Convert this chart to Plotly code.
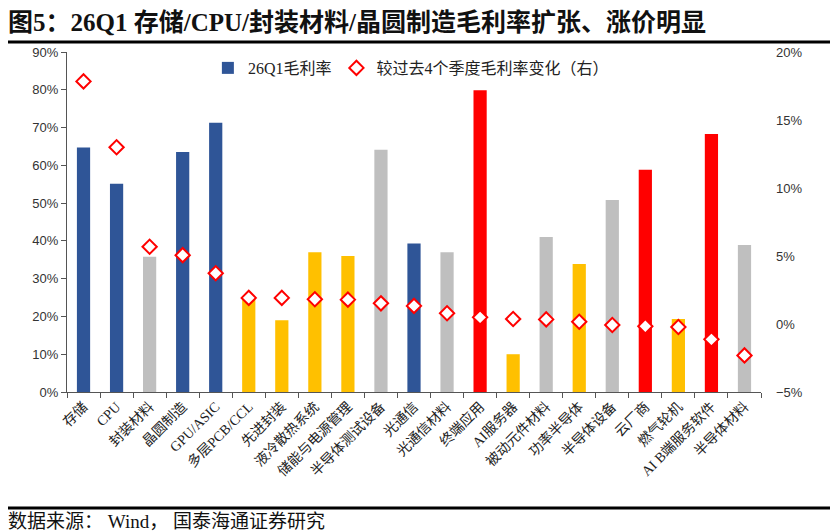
import plotly.graph_objects as go

categories = ["存储", "CPU", "封装材料", "晶圆制造", "GPU/ASIC", "多层PCB/CCL", "先进封装",
              "液冷散热系统", "储能与电源管理", "半导体测试设备", "光通信", "光通信材料", "终端应用",
              "AI服务器", "被动元件材料", "功率半导体", "半导体设备", "云厂商", "燃气轮机",
              "AI B端服务软件", "半导体材料"]
gross_margin = [0.647, 0.551, 0.358, 0.635, 0.713, 0.250, 0.190, 0.370, 0.360, 0.641, 0.393,
                0.370, 0.799, 0.100, 0.410, 0.339, 0.508, 0.588, 0.193, 0.683, 0.389]
margin_change = [0.1784, 0.130, 0.0568, 0.0506, 0.0373, 0.0192, 0.0192, 0.0182, 0.0179, 0.0152,
                 0.0133, 0.0079, 0.0049, 0.0037, 0.0034, 0.0017, -0.0007, -0.0017, -0.0022,
                 -0.0113, -0.0231]
groups = ["navy", "navy", "gray", "navy", "navy", "yellow", "yellow", "yellow", "yellow", "gray",
          "navy", "gray", "red", "yellow", "gray", "yellow", "gray", "red", "yellow", "red", "gray"]

palette = {"navy": "#2F5597", "gray": "#BFBFBF", "yellow": "#FFC000", "red": "#FF0000"}
bar_colors = [palette[g] for g in groups]

serif = "Liberation Serif, Noto Sans CJK SC, serif"
sans = "Liberation Sans, Arial, sans-serif"

PW, PH = 694, 340  # plot area size in px

fig = go.Figure()
fig.add_trace(go.Bar(
    x=categories, y=gross_margin, name="26Q1毛利率",
    marker=dict(color=bar_colors, line=dict(width=0)),
    width=0.4, yaxis="y"))
fig.add_trace(go.Scatter(
    x=categories, y=margin_change, name="较过去4个季度毛利率变化（右）",
    mode="markers", yaxis="y2",
    marker=dict(symbol="diamond", size=11, color="white",
                line=dict(color="#FF0000", width=2))))

fig.update_layout(
    width=839, height=531,
    margin=dict(l=67, r=78, t=52, b=139),
    paper_bgcolor="white", plot_bgcolor="white",
    showlegend=True,
    legend=dict(orientation="h", x=0.203, y=0.953, xanchor="left", yanchor="middle",
                bgcolor="rgba(0,0,0,0)", font=dict(family=serif, size=16, color="#222"),
                itemwidth=30, tracegroupgap=0),
    xaxis=dict(type="category", tickangle=-45, tickson="boundaries", ticks="outside",
               ticklen=5, tickcolor="#555", showline=True, linecolor="#555", linewidth=1,
               tickfont=dict(family=serif, size=14, color="#222"), showgrid=False,
               range=[-0.5, len(categories) - 0.5]),
    yaxis=dict(range=[0, 0.9], dtick=0.1, tickformat=".0%", showgrid=False, zeroline=False,
               showline=True, linecolor="#555", linewidth=1, ticks="outside", ticklen=5,
               tickcolor="#555", tickfont=dict(family=sans, size=13, color="#333")),
    yaxis2=dict(range=[-0.05, 0.2], dtick=0.05, tickformat=".0%", overlaying="y", side="right",
                showgrid=False, zeroline=False, showline=False, ticks="",
                tickfont=dict(family=sans, size=13, color="#333"), ticklabelstandoff=14),
    bargap=0.6,
)

fig.add_annotation(text="<b>图5：26Q1 存储/CPU/封装材料/晶圆制造毛利率扩张、涨价明显</b>",
                   xref="paper", yref="paper", x=(6 - 67) / PW, y=1 + 30 / PH,
                   xanchor="left", yanchor="middle", showarrow=False,
                   font=dict(family=serif, size=25, color="#111"))
fig.add_annotation(text="数据来源： Wind， 国泰海通证券研究",
                   xref="paper", yref="paper", x=(6 - 67) / PW, y=-129 / PH,
                   xanchor="left", yanchor="middle", showarrow=False,
                   font=dict(family=serif, size=19, color="#111"))
fig.add_shape(type="line", xref="paper", yref="paper",
              x0=(8 - 67) / PW, x1=(830 - 67) / PW, y0=1 + 10 / PH, y1=1 + 10 / PH,
              line=dict(color="black", width=3))
fig.add_shape(type="line", xref="paper", yref="paper",
              x0=(8 - 67) / PW, x1=(830 - 67) / PW, y0=-116 / PH, y1=-116 / PH,
              line=dict(color="black", width=3))

fig.write_html("out.html", config={"displayModeBar": False},
               post_script="document.body.style.margin='0';document.body.style.overflow='hidden';")
